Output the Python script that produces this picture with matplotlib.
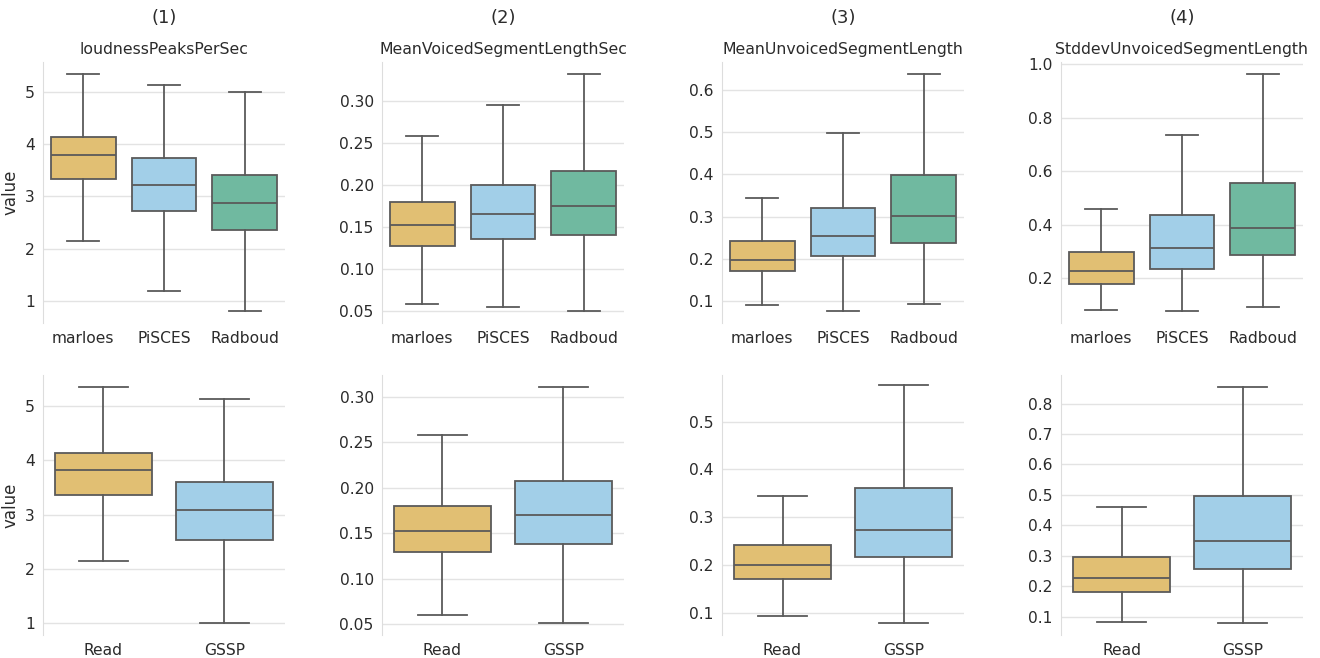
import matplotlib
matplotlib.use("Agg")
import matplotlib.pyplot as plt
from matplotlib.ticker import MultipleLocator

# box statistics: whislo, q1, median, q3, whishi
features = ["loudnessPeaksPerSec", "MeanVoicedSegmentLengthSec",
            "MeanUnvoicedSegmentLength", "StddevUnvoicedSegmentLength"]
corpora = ["marloes", "PiSCES", "Radboud"]
styles = ["Read", "GSSP"]

corpus_stats = [
    [[2.14, 3.34, 3.79, 4.13, 5.34], [1.20, 2.73, 3.21, 3.74, 5.13], [0.81, 2.35, 2.87, 3.40, 5.00]],
    [[0.059, 0.128, 0.152, 0.180, 0.258], [0.055, 0.136, 0.166, 0.200, 0.295], [0.050, 0.140, 0.175, 0.216, 0.332]],
    [[0.090, 0.170, 0.198, 0.241, 0.344], [0.076, 0.206, 0.255, 0.321, 0.499], [0.094, 0.238, 0.302, 0.398, 0.638]],
    [[0.081, 0.180, 0.227, 0.298, 0.458], [0.078, 0.236, 0.315, 0.437, 0.735], [0.095, 0.286, 0.389, 0.557, 0.964]],
]
style_stats = [
    [[2.15, 3.35, 3.81, 4.14, 5.35], [1.00, 2.54, 3.08, 3.60, 5.13]],
    [[0.060, 0.129, 0.152, 0.180, 0.258], [0.051, 0.138, 0.170, 0.207, 0.311]],
    [[0.092, 0.170, 0.200, 0.241, 0.345], [0.078, 0.217, 0.273, 0.361, 0.576]],
    [[0.082, 0.182, 0.226, 0.297, 0.459], [0.079, 0.256, 0.350, 0.495, 0.855]],
]
top_steps = [1, 0.05, 0.1, 0.2]
bottom_steps = [1, 0.05, 0.1, 0.1]
# upper y limit where the reference stops just short of a tick
bottom_ytop = [None, None, 0.598, None]

colors = ["#E1BF73", "#A2CFE8", "#70B9A0"]
line_col = "#5a5a5a"
text_col = "#2b2b2b"

W, H = 1320, 658
lefts = [43, 382, 722, 1061]
ax_w = 242


def draw_box(ax, labels, stats, step):
    bx = []
    for lab, s in zip(labels, stats):
        bx.append(dict(label=lab, whislo=s[0], q1=s[1], med=s[2], q3=s[3], whishi=s[4], fliers=[]))
    pos = list(range(len(labels)))
    res = ax.bxp(bx, positions=pos, widths=0.8, capwidths=0.4, patch_artist=True,
                 showfliers=False,
                 boxprops=dict(edgecolor=line_col, linewidth=1.3),
                 whiskerprops=dict(color=line_col, linewidth=1.3),
                 capprops=dict(color=line_col, linewidth=1.3),
                 medianprops=dict(color=line_col, linewidth=1.3))
    for patch, c in zip(res["boxes"], colors):
        patch.set_facecolor(c)
    ax.set_xlim(-0.5, len(labels) - 0.5)
    ax.yaxis.set_major_locator(MultipleLocator(step))
    ax.grid(axis="y", color="#e3e3e3", linewidth=1)
    ax.set_axisbelow(True)
    for sp in ["top", "right", "bottom"]:
        ax.spines[sp].set_visible(False)
    ax.spines["left"].set_color("#dddddd")
    ax.tick_params(length=0, labelsize=11.2, colors=text_col, pad=6)


fig = plt.figure(figsize=(W / 100, H / 100), dpi=100)

for i in range(4):
    ax_top = fig.add_axes([lefts[i] / W, 1 - 323 / H, ax_w / W, 261 / H])
    draw_box(ax_top, corpora, corpus_stats[i], top_steps[i])
    ax_top.set_title(features[i], fontsize=11.3, color=text_col, pad=6)

    ax_bot = fig.add_axes([lefts[i] / W, 1 - 635 / H, ax_w / W, 260 / H])
    draw_box(ax_bot, styles, style_stats[i], bottom_steps[i])
    if bottom_ytop[i] is not None:
        ax_bot.set_ylim(top=bottom_ytop[i])

    if i == 0:
        ax_top.set_ylabel("value", fontsize=12, color=text_col)
        ax_bot.set_ylabel("value", fontsize=12, color=text_col)

    fig.text((lefts[i] + ax_w / 2) / W, 1 - 18 / H, "(%d)" % (i + 1),
             ha="center", va="center", fontsize=13, color=text_col)

fig.savefig("out.png", dpi=100)
